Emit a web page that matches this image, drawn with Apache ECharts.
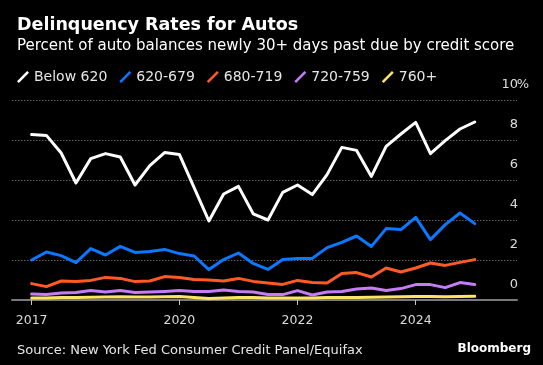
<!DOCTYPE html>
<html>
<head>
<meta charset="utf-8">
<script src="https://cdn.jsdelivr.net/npm/echarts@6/dist/echarts.min.js"></script>
<style>
html,body{margin:0;padding:0;background:#000;}
#c{width:543px;height:365px;}
</style>
</head>
<body>
<div id="c"></div>
<script>
// Quarterly observations
var quarters = ['2017 Q3','2017 Q4','2018 Q1','2018 Q2','2018 Q3','2018 Q4','2019 Q1','2019 Q2','2019 Q3','2019 Q4',
  '2020 Q1','2020 Q2','2020 Q3','2020 Q4','2021 Q1','2021 Q2','2021 Q3','2021 Q4','2022 Q1','2022 Q2','2022 Q3','2022 Q4',
  '2023 Q1','2023 Q2','2023 Q3','2023 Q4','2024 Q1','2024 Q2','2024 Q3','2024 Q4','2025 Q1'];
var below620 = [8.27,8.23,7.35,5.85,7.07,7.32,7.15,5.75,6.72,7.37,7.28,5.62,3.95,5.3,5.68,4.31,4.0,5.38,5.75,5.27,6.27,7.63,7.48,6.18,7.68,8.3,8.88,7.32,7.97,8.55,8.9];
var s620_679 = [2.0,2.4,2.22,1.87,2.57,2.25,2.68,2.38,2.43,2.53,2.32,2.2,1.52,2.02,2.35,1.83,1.53,2.02,2.07,2.08,2.62,2.88,3.2,2.68,3.57,3.52,4.13,3.02,3.77,4.35,3.82];
var s680_719 = [0.82,0.67,0.95,0.93,0.98,1.13,1.08,0.92,0.95,1.17,1.13,1.02,1.0,0.95,1.08,0.93,0.85,0.78,0.98,0.88,0.85,1.32,1.37,1.15,1.6,1.4,1.6,1.85,1.73,1.88,2.02];
var s720_759 = [0.3,0.27,0.35,0.37,0.47,0.4,0.48,0.37,0.4,0.43,0.47,0.42,0.42,0.5,0.43,0.4,0.27,0.27,0.47,0.25,0.4,0.42,0.55,0.6,0.48,0.57,0.77,0.77,0.62,0.87,0.77];
var s760plus = [0.1,0.1,0.12,0.13,0.14,0.15,0.16,0.15,0.15,0.16,0.17,0.12,0.08,0.1,0.12,0.12,0.1,0.1,0.1,0.1,0.12,0.12,0.13,0.14,0.15,0.16,0.18,0.17,0.16,0.17,0.19];

var seriesNames = ['Below 620','620-679','680-719','720-759','760+'];
var seriesColors = ['#ffffff','#0a78ff','#ff5a24','#c57cf6','#fbe466'];

// X-axis tick labels (which quarters are labelled)
var xTickQuarters = ['2017 Q3','2020 Q1','2022 Q1','2024 Q1'];
var xTickLabels = ['2017','2020','2022','2024'];
// Y-axis ticks
var yTicks = [0,2,4,6,8,10];

var FONT = 'DejaVu Sans';
var xTickIdx = xTickQuarters.map(function(q){ return quarters.indexOf(q); });
var allData = [below620, s620_679, s680_719, s720_759, s760plus];

var chart = echarts.init(document.getElementById('c'), null, {renderer:'canvas'});
var legendIcon = 'path://M0.1,10.1 L10.1,0.1 L11.9,1.9 L1.9,11.9 Z';

chart.setOption({
  backgroundColor: '#000000',
  animation: false,
  title: [
    {text:'Delinquency Rates for Autos', left: 12, top: 9,
     textStyle:{color:'#ffffff', fontFamily: FONT, fontSize: 17.5, fontWeight:'bold', lineHeight: 22}},
    {text:'Percent of auto balances newly 30+ days past due by credit score', left: 12, top: 32.5,
     textStyle:{color:'#ffffff', fontFamily: FONT, fontSize: 15, fontWeight:'normal', lineHeight: 18}},
    {text:'Source: New York Fed Consumer Credit Panel/Equifax', left: 12, top: 337.5,
     textStyle:{color:'#e6e6e6', fontFamily: FONT, fontSize: 13, fontWeight:'normal', lineHeight: 16}},
    {text:'Bloomberg', right: 7, top: 335.5,
     textStyle:{color:'#ffffff', fontFamily: FONT, fontSize: 12, fontWeight:'bold', lineHeight: 16}}
  ],
  legend: {
    left: 12, top: 64, itemWidth: 12, itemHeight: 12, itemGap: 12,
    icon: legendIcon,
    textStyle: {color:'#e6e6e6', fontFamily: FONT, fontSize: 14, lineHeight: 16},
    data: seriesNames.map(function(n, i){ return {name: n, itemStyle:{color: seriesColors[i]}}; })
  },
  grid: {left: 12, right: 26, top: 100, bottom: 65, containLabel: false},
  xAxis: {
    type: 'value', min: -1.33, max: 32.86,
    splitLine: {show:false},
    axisLine: {show:true, onZero:false, lineStyle:{color:'#7a7a7a', width:2}},
    axisTick: {show:true, customValues: xTickIdx, length: 5, lineStyle:{color:'#c8c8c8', width:1}},
    axisLabel: {
      customValues: xTickIdx, margin: 14, color:'#dcdcdc', fontFamily: FONT, fontSize: 12.5,
      formatter: function(v){ var k = xTickIdx.indexOf(Math.round(v)); return k >= 0 ? xTickLabels[k] : ''; }
    }
  },
  yAxis: {
    type: 'value', position: 'right', min: yTicks[0], max: yTicks[yTicks.length-1], interval: 2,
    axisLine: {show:false}, axisTick: {show:false},
    splitLine: {show:true, lineStyle:{color:'#606060', width:1, type:[1.5,1.5]}},
    axisLabel: {
      margin: 11, align: 'right', verticalAlign: 'bottom', padding: [0,0,7,0],
      color:'#dcdcdc', fontFamily: FONT, fontSize: 13,
      formatter: function(v){ return v === 10 ? '{n|10}{p|%}' : '{n|' + v + '}{p| }'; },
      rich: {
        n: {color:'#dcdcdc', fontFamily: FONT, fontSize: 13, lineHeight: 16},
        p: {color:'#dcdcdc', fontFamily: FONT, fontSize: 13, lineHeight: 16, width: 10, align:'left'}
      }
    }
  },
  series: seriesNames.map(function(n, i){
    return {
      name: n, type: 'line', symbol: 'none', smooth: false,
      lineStyle: {color: seriesColors[i], width: 3, join: 'round', cap: 'round'},
      itemStyle: {color: seriesColors[i]},
      data: allData[i].map(function(v, j){ return [j, v]; }),
      z: 10 - i
    };
  })
});
</script>
</body>
</html>
